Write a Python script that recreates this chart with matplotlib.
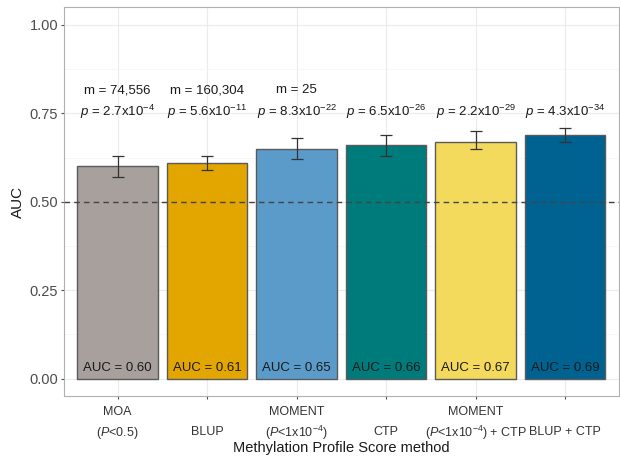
import matplotlib
matplotlib.use("Agg")
import matplotlib.pyplot as plt
import numpy as np
from matplotlib.ticker import MultipleLocator

plt.rcParams['font.family'] = ['Liberation Sans', 'DejaVu Sans']
plt.rcParams['mathtext.fontset'] = 'custom'
plt.rcParams['mathtext.rm'] = 'Liberation Sans'
plt.rcParams['mathtext.it'] = 'Liberation Sans:italic'

# data
methods_top = ["MOA", "", "MOMENT", "", "MOMENT", ""]
methods_bottom = ["($\\it{P}$<0.5)", "BLUP", "($\\it{P}$<1x10$^{-4}$)", "CTP",
                  "($\\it{P}$<1x10$^{-4}$) + CTP", "BLUP + CTP"]
auc = [0.60, 0.61, 0.65, 0.66, 0.67, 0.69]
auc_lo = [0.57, 0.59, 0.62, 0.63, 0.65, 0.67]
auc_hi = [0.63, 0.63, 0.68, 0.69, 0.70, 0.71]
m_labels = ["m = 74,556", "m = 160,304", "m = 25", "", "", ""]
p_labels = ["$\\it{p}$ = 2.7x10$^{-4}$", "$\\it{p}$ = 5.6x10$^{-11}$", "$\\it{p}$ = 8.3x10$^{-22}$",
            "$\\it{p}$ = 6.5x10$^{-26}$", "$\\it{p}$ = 2.2x10$^{-29}$", "$\\it{p}$ = 4.3x10$^{-34}$"]
colors = ["#A7A09D", "#E3A600", "#5B9BCA", "#007B7B", "#F4DA5C", "#006290"]

fig = plt.figure(figsize=(6.2, 4.57), dpi=100)
ax = fig.add_axes([0.103, 0.133, 0.895, 0.851])

x = np.arange(len(auc))
ax.bar(x, auc, width=0.9, color=colors, edgecolor="#5a5a5a", linewidth=1.0, zorder=3)
err = [np.array(auc) - np.array(auc_lo), np.array(auc_hi) - np.array(auc)]
ax.errorbar(x, auc, yerr=err, fmt="none", ecolor="#333333", elinewidth=0.9,
            capsize=4, capthick=0.9, zorder=4)
ax.axhline(0.5, color="#444444", linestyle=(0, (4, 3)), linewidth=1.0, zorder=5)

for i in range(len(auc)):
    if m_labels[i]:
        ax.text(x[i], 0.815, m_labels[i], ha="center", va="center", fontsize=9.5, color="#1a1a1a")
    ax.text(x[i], 0.755, p_labels[i], ha="center", va="center", fontsize=9.5, color="#1a1a1a")
    ax.text(x[i], 0.03, "AUC = %.2f" % auc[i], ha="center", va="center", fontsize=9.5, color="#1a1a1a", zorder=6)

# two-line category labels under the axis
xt = ax.get_xaxis_transform()
for i in range(len(auc)):
    if methods_top[i]:
        ax.text(x[i], -0.04, methods_top[i], transform=xt, ha="center", va="center",
                fontsize=9, color="#333333", clip_on=False)
    ax.text(x[i], -0.088, methods_bottom[i], transform=xt, ha="center", va="center_baseline",
            fontsize=9, color="#333333", clip_on=False)

ax.set_xlim(-0.6, len(auc) - 0.4)
ax.set_ylim(-0.05, 1.05)
ax.set_yticks([0, 0.25, 0.5, 0.75, 1.0])
ax.set_yticklabels(["0.00", "0.25", "0.50", "0.75", "1.00"])
ax.yaxis.set_minor_locator(MultipleLocator(0.125))
ax.set_xticks(x)
ax.set_xticklabels([])
ax.tick_params(axis="y", labelsize=10.5, colors="#4d4d4d", labelcolor="#4d4d4d", length=2.5, pad=1.5)
ax.tick_params(axis="x", colors="#4d4d4d", length=2.5)
ax.tick_params(axis="y", which="minor", length=0)

ax.grid(True, which="major", color="#ebebeb", linewidth=0.8, zorder=0)
ax.grid(True, which="minor", axis="y", color="#f4f4f4", linewidth=0.5, zorder=0)
ax.set_axisbelow(True)
for s in ax.spines.values():
    s.set_color("#b0b0b0")
    s.set_linewidth(0.8)

ax.set_ylabel("AUC", fontsize=11, color="#1a1a1a", labelpad=3)
ax.set_xlabel("Methylation Profile Score method", fontsize=10.5, color="#1a1a1a")
ax.xaxis.set_label_coords(0.5, -0.115)

fig.savefig("out.png", dpi=100)
